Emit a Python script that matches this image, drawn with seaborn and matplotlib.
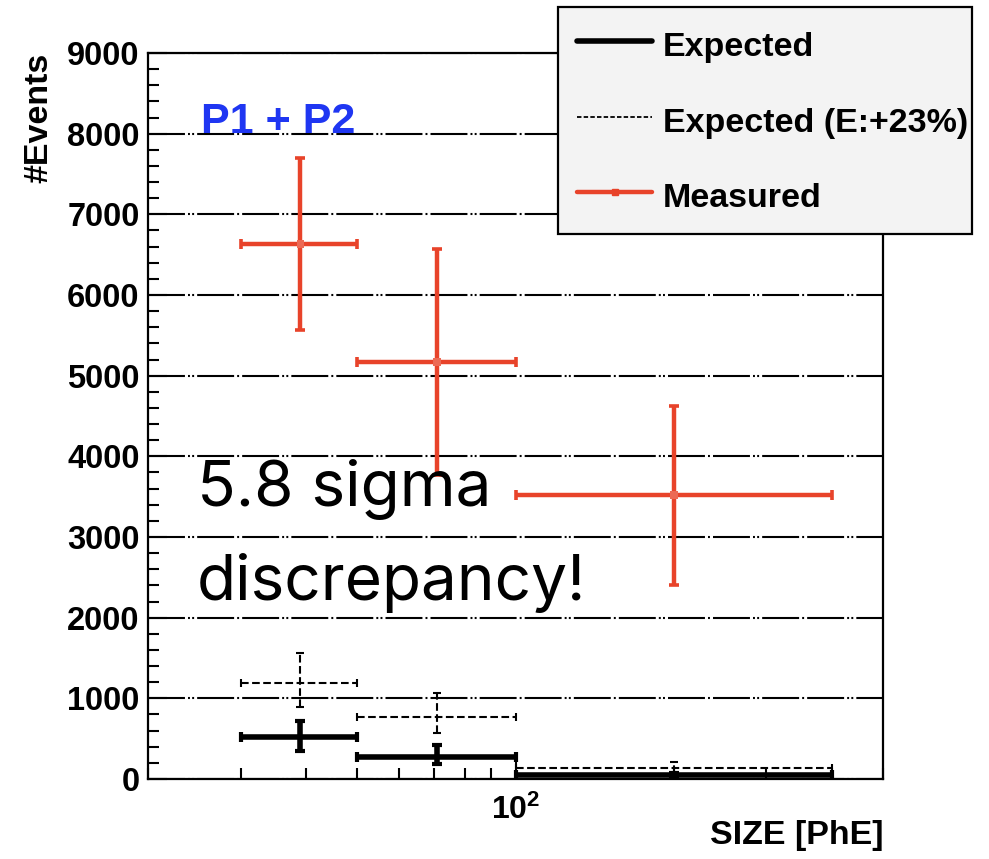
import matplotlib
matplotlib.use("Agg")
import matplotlib.pyplot as plt
from matplotlib.lines import Line2D
from matplotlib.ticker import FixedLocator, LogLocator, NullFormatter, FuncFormatter
import pandas as pd
import seaborn as sns

# SIZE bins [PhE]
size_low = [30, 50, 100]
size_high = [50, 100, 400]
size_center = [39, 71, 200]

# Measured event counts with symmetric errors
measured = [6630, 5170, 3520]
measured_err = [1065, 1400, 1110]

# Expected event counts (asymmetric errors)
expected = [517, 277, 55]
expected_err_low = [170, 85, 20]
expected_err_high = [200, 145, 20]

# Expected with energy scale shifted by +23%
expected_e23 = [1186, 772, 140]
expected_e23_err_low = [295, 205, 60]
expected_e23_err_high = [370, 290, 70]

y_ticks = [0, 1000, 2000, 3000, 4000, 5000, 6000, 7000, 8000, 9000]
legend_labels = ["Expected", "Expected (E:+23%)", "Measured"]

RED = "#e8432a"
BLUE = "#1f36f2"

sns.set_theme(style="ticks")
plt.rcParams.update({
    "font.family": ["Liberation Sans", "DejaVu Sans"],
    "font.weight": "bold",
    "axes.labelweight": "bold",
    "text.color": "black",
    "axes.labelcolor": "black",
    "xtick.color": "black",
    "ytick.color": "black",
    "xtick.labelcolor": "black",
    "ytick.labelcolor": "black",
    "mathtext.fontset": "custom",
    "mathtext.rm": "Liberation Sans:bold",
    "mathtext.bf": "Liberation Sans:bold",
    "mathtext.it": "Liberation Sans:bold",
    "lines.scale_dashes": False,
    "axes.linewidth": 1.6,
    "axes.edgecolor": "black",
})

fig = plt.figure(figsize=(9.89, 8.59), dpi=100)
ax = fig.add_axes([148 / 989, 80 / 859, 735 / 989, 726 / 859])
ax.set_facecolor("white")

df = pd.DataFrame({"size": size_center, "events": measured})
xerr_lo = [c - lo for c, lo in zip(size_center, size_low)]
xerr_hi = [hi - c for c, hi in zip(size_center, size_high)]

grid_dash = (0, (26.6, 2.2, 1.4, 1.6, 1.4, 2.2, 26.6, 2.2, 1.4, 2.2))
ax.set_axisbelow(True)
ax.yaxis.grid(True, color="black", linewidth=1.5, linestyle=grid_dash)
ax.xaxis.grid(False)

# Expected (E:+23%) - thin dashed bars
eb = ax.errorbar(size_center, expected_e23, xerr=[xerr_lo, xerr_hi],
                 yerr=[expected_e23_err_low, expected_e23_err_high],
                 fmt="none", ecolor="black", elinewidth=1.5, capsize=3,
                 capthick=1.5, zorder=3)
for col in eb[2]:
    col.set_linestyle((0, (5.5, 2.5)))

# Expected - thick solid bars
ax.errorbar(size_center, expected, xerr=[xerr_lo, xerr_hi],
            yerr=[expected_err_low, expected_err_high],
            fmt="none", ecolor="black", elinewidth=4.0, capsize=3.4,
            capthick=3.0, zorder=4)

# Measured
ax.errorbar(size_center, measured, xerr=[xerr_lo, xerr_hi],
            yerr=[measured_err, measured_err],
            fmt="none", ecolor=RED, elinewidth=3.2, capsize=3.8,
            capthick=2.6, zorder=5)
sns.scatterplot(data=df, x="size", y="events", marker="s", s=30,
                color="#ec6a55", edgecolor="none", ax=ax, zorder=6,
                legend=False)

ax.set_xscale("log")
ax.set_xlim(20, 500)
ax.set_ylim(0, 9000)
ax.xaxis.set_major_locator(FixedLocator([100]))
ax.xaxis.set_major_formatter(FuncFormatter(lambda v, p: r"$10^{2}$"))
ax.xaxis.set_minor_locator(LogLocator(base=10, subs=[2, 3, 4, 5, 6, 7, 8, 9]))
ax.xaxis.set_minor_formatter(NullFormatter())
ax.yaxis.set_major_locator(FixedLocator(y_ticks))
ax.yaxis.set_minor_locator(FixedLocator(list(range(0, 9001, 200))))

ax.tick_params(axis="both", which="both", direction="in", color="black",
               labelcolor="black", width=1.5, top=False, right=False)
ax.tick_params(axis="both", which="major", length=14)
ax.tick_params(axis="both", which="minor", length=8)
ax.tick_params(axis="y", which="major", labelsize=23.5, pad=6)
ax.tick_params(axis="x", which="major", labelsize=23, pad=11)
for lab in ax.get_yticklabels():
    lab.set_fontweight("bold")

for s in ax.spines.values():
    s.set_visible(True)
    s.set_color("black")
    s.set_linewidth(1.6)

ax.set_xlabel("SIZE [PhE]", fontsize=24.5, fontweight="bold", loc="right",
              color="black")
ax.xaxis.set_label_coords(1.0, -0.057)
ax.set_ylabel("#Events", fontsize=24.5, fontweight="bold", loc="top",
              color="black")
ax.yaxis.set_label_coords(-0.127, 1.0)

ax.text(0.072, 0.89, "P1 + P2", transform=ax.transAxes, color=BLUE,
        fontsize=31, fontweight="bold", va="baseline", ha="left")
ax.text(0.066, 0.378, "5.8 sigma", transform=ax.transAxes, color="black",
        fontsize=46, fontweight="normal", family=["Inter", "DejaVu Sans"],
        va="baseline", ha="left", zorder=7)
ax.text(0.066, 0.247, "discrepancy!", transform=ax.transAxes, color="black",
        fontsize=46, fontweight="normal", family=["Inter", "DejaVu Sans"],
        va="baseline", ha="left", zorder=7)

handles = [
    Line2D([], [], color="black", lw=4.0),
    Line2D([], [], color="black", lw=1.3, dashes=(3.2, 1.6)),
    Line2D([], [], color=RED, lw=3.2, marker="s", markersize=5,
           markerfacecolor=RED, markeredgecolor=RED),
]
# fixed-width legend box; the longest label runs up to the right border
leg_box = (558 / 989, 1 - 233 / 859, 414 / 989, 226 / 859)
leg = ax.legend(handles, legend_labels, loc="upper left", mode="expand",
                bbox_to_anchor=leg_box, bbox_transform=fig.transFigure,
                prop={"family": "Liberation Sans", "weight": "bold", "size": 24.5},
                frameon=True, fancybox=False, framealpha=1.0,
                facecolor="#f3f3f3", edgecolor="black",
                borderpad=0.57, labelspacing=1.13, handlelength=2.2,
                handleheight=1.3, handletextpad=0.32, borderaxespad=0.0)
leg.get_frame().set_linewidth(1.6)
for t in leg.get_texts():
    t.set_color("black")
leg.set_zorder(10)

fig.savefig("out.png", dpi=100, facecolor="white")
